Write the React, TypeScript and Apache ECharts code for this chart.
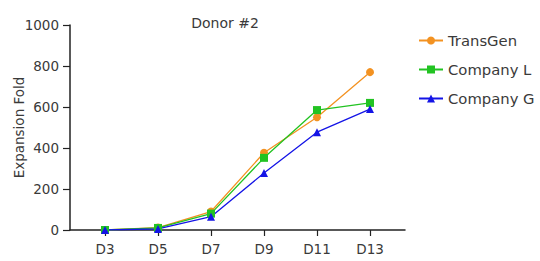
import React, { useEffect, useRef } from "react";
import * as echarts from "echarts";

const days = [3, 5, 7, 9, 11, 13];
const seriesNames = ["TransGen", "Company L", "Company G"];
const transGen = [0, 12, 90, 377, 550, 770];
const companyL = [0, 10, 80, 352, 585, 620];
const companyG = [0, 5, 65, 278, 477, 590];
const yTicks = [0, 200, 400, 600, 800, 1000];

const FONT = "DejaVu Sans";
const TXT = "#3a3a3a";

export default function App() {
  const ref = useRef<HTMLDivElement>(null);
  useEffect(() => {
    if (!ref.current) return;
    const chart = echarts.init(ref.current, undefined, { renderer: "svg" });
    const mk = (vals: number[]) => days.map((d, i) => [d, vals[i]]);
    const colors = ["#F39221", "#22C322", "#1414E6"];
    const symbols = ["circle", "rect", "triangle"];
    const sizes = [8, 8, 8];
    const all = [transGen, companyL, companyG];
    chart.setOption({
      animation: false,
      title: {
        text: "Donor #2",
        left: 220,
        top: 11,
        textAlign: "center",
        textStyle: { fontFamily: FONT, fontSize: 14, fontWeight: "normal", color: TXT },
      },
      legend: {
        orient: "vertical",
        left: 413,
        top: 28,
        itemGap: 14,
        itemWidth: 24,
        itemHeight: 10,
        data: seriesNames,
        textStyle: { fontFamily: FONT, fontSize: 14.8, color: TXT },
      },
      grid: { left: 70, right: 135, top: 25, bottom: 31, outerBoundsMode: "none", containLabel: false },
      xAxis: {
        type: "value",
        min: 1.68,
        max: 14.32,
        splitLine: { show: false },
        axisLine: { lineStyle: { color: "#222", width: 1.5 } },
        axisTick: { show: true, customValues: days, length: 6, lineStyle: { color: "#222", width: 1.2 } },
        axisLabel: {
          customValues: days,
          formatter: (v: number) => "D" + v,
          fontFamily: FONT,
          fontSize: 13.5,
          color: TXT,
          margin: 12,
        },
      },
      yAxis: {
        type: "value",
        min: 0,
        max: 1000,
        interval: 200,
        name: "Expansion Fold",
        nameLocation: "middle",
        nameGap: 44,
        nameMoveOverlap: false,
        nameTextStyle: { fontFamily: FONT, fontSize: 13.5, color: TXT },
        splitLine: { show: false },
        axisLine: { show: true, lineStyle: { color: "#222", width: 1.5 } },
        axisTick: { show: true, length: 7, lineStyle: { color: "#222", width: 1.2 } },
        axisLabel: {
          customValues: yTicks,
          formatter: (v: number) => String(v),
          fontFamily: FONT,
          fontSize: 13.5,
          color: TXT,
          margin: 11,
        },
      },
      series: seriesNames.map((name, i) => ({
        name,
        type: "line",
        data: mk(all[i]),
        symbol: symbols[i],
        symbolSize: sizes[i],
        color: colors[i],
        lineStyle: { width: 1.3, color: colors[i] },
        itemStyle: { color: colors[i] },
      })),
    });
    return () => chart.dispose();
  }, []);
  return <div ref={ref} style={{ width: 540, height: 261, position: "absolute", left: 0, top: 0 }} />;
}
